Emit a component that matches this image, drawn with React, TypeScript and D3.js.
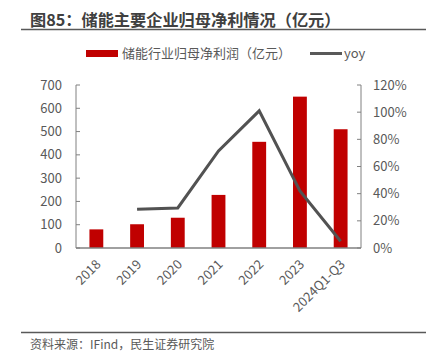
import React from "react";
import * as d3 from "d3";

const categories = ["2018", "2019", "2020", "2021", "2022", "2023", "2024Q1-Q3"];
const profit = [80, 102, 130, 228, 456, 650, 510];
const yoy = [null, 28.5, 29.5, 71.5, 101, 42, 5];
const leftTicks = [0, 100, 200, 300, 400, 500, 600, 700];
const rightTicks = [0, 20, 40, 60, 80, 100, 120];
const title = "图85：储能主要企业归母净利情况（亿元）";
const legendBar = "储能行业归母净利润（亿元）";
const legendLine = "yoy";
const source = "资料来源：IFind，民生证券研究院";

const W = 426, H = 361;
const M = { left: 76, right: 361, top: 85, bottom: 248 };
const font = "'Noto Sans CJK SC', 'Noto Sans', sans-serif";
const textColor = "#595959";
const axisColor = "#808080";

export default function App() {
  const x = d3.scaleBand().domain(categories).range([M.left, M.right]).paddingInner(0.66).paddingOuter(0.33);
  const yL = d3.scaleLinear().domain([0, 700]).range([M.bottom, M.top]);
  const yR = d3.scaleLinear().domain([0, 120]).range([M.bottom, M.top]);
  const cx = (c: string) => (x(c) as number) + x.bandwidth() / 2;
  const pts = categories.map((c, i) => [c, yoy[i]] as [string, number | null]).filter((d) => d[1] != null) as [string, number][];
  const line = d3.line<[string, number]>().x((d) => cx(d[0])).y((d) => yR(d[1]));

  return (
    <svg width={W} height={H} style={{ position: "absolute", left: 0, top: 0, background: "#fff" }} fontFamily={font}>
      <text x={30} y={25.5} fontSize={16.2} fontWeight="bold" fill="#404040">{title}</text>
      <line x1={21} x2={426} y1={29.5} y2={29.5} stroke="#595959" strokeWidth={1.5} />

      <rect x={86} y={50} width={32} height={7} fill="#C00000" />
      <text x={122} y={58} fontSize={13} fill={textColor}>{legendBar}</text>
      <line x1={310} x2={342} y1={53.5} y2={53.5} stroke="#595959" strokeWidth={3} />
      <text x={344} y={58} fontSize={13} fill={textColor}>{legendLine}</text>

      {categories.map((c, i) => (
        <rect key={c} x={x(c)} y={yL(profit[i])} width={x.bandwidth()} height={yL(0) - yL(profit[i])} fill="#C00000" />
      ))}

      <line x1={M.left} x2={M.left} y1={M.top} y2={M.bottom} stroke={axisColor} strokeWidth={1} />
      {leftTicks.map((t) => (
        <g key={t}>
          <line x1={M.left} x2={M.left + 4} y1={yL(t)} y2={yL(t)} stroke={axisColor} />
          <text x={M.left - 14} y={yL(t)} dy="0.35em" textAnchor="end" fontSize={13} fill={textColor}>{t}</text>
        </g>
      ))}
      <line x1={M.right} x2={M.right} y1={M.top} y2={M.bottom} stroke={axisColor} strokeWidth={1} />
      {rightTicks.map((t) => (
        <g key={t}>
          <line x1={M.right - 4} x2={M.right} y1={yR(t)} y2={yR(t)} stroke={axisColor} />
          <text x={M.right + 12} y={yR(t)} dy="0.35em" textAnchor="start" fontSize={13} fill={textColor}>{t + "%"}</text>
        </g>
      ))}

      <path d={line(pts) || ""} fill="none" stroke="#525252" strokeWidth={3} strokeLinejoin="miter" />
      <line x1={M.left} x2={M.right} y1={M.bottom} y2={M.bottom} stroke={axisColor} strokeWidth={1.5} />

      {categories.map((c) => (
        <text key={c} transform={`translate(${cx(c) + 2},${M.bottom + 14}) rotate(-45)`} textAnchor="end" dy="0.35em" fontSize={13} fill={textColor}>{c}</text>
      ))}

      <line x1={21} x2={426} y1={332.5} y2={332.5} stroke="#595959" strokeWidth={1.5} />
      <text x={30} y={349} fontSize={12} fill={textColor}>{source}</text>
    </svg>
  );
}
